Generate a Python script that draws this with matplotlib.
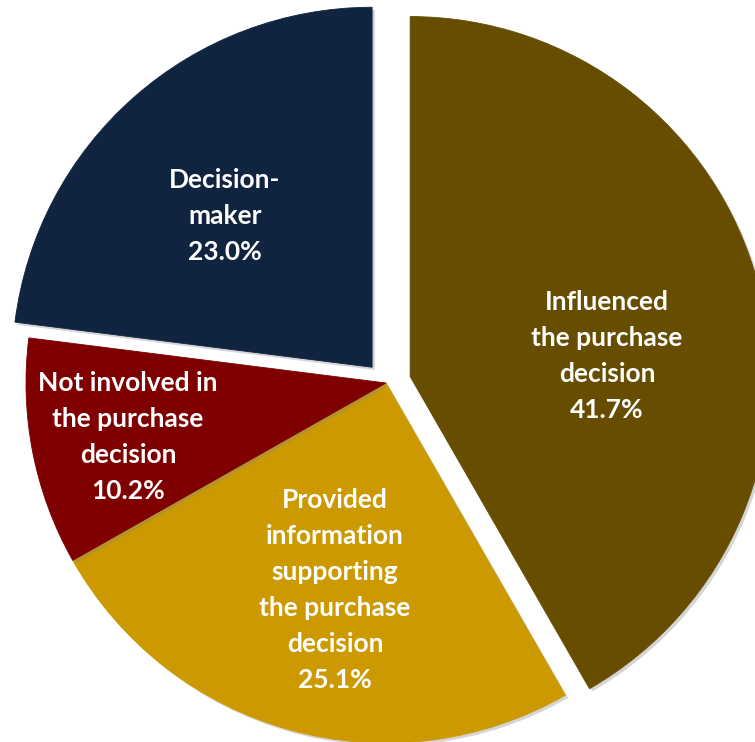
import matplotlib
matplotlib.use("Agg")
import matplotlib.pyplot as plt
import matplotlib.patheffects as pe

categories = ["Influenced\nthe purchase\ndecision",
              "Provided\ninformation\nsupporting\nthe purchase\ndecision",
              "Not involved in\nthe purchase\ndecision",
              "Decision-\nmaker"]
values = [41.7, 25.1, 10.2, 23.0]
colors = ["#664D00", "#CC9900", "#7F0000", "#10243F"]

RADIUS = 360
explode = [25, 0, 0, 21]  # offsets in pixel units
# label anchor positions (pixel coords, y up)
label_pos = [(607, 742 - 356), (335, 742 - 590), (128, 742 - 437), (225, 742 - 216)]

fig = plt.figure(figsize=(7.55, 7.42), dpi=100)
ax = fig.add_axes([0, 0, 1, 1])
wedges, _ = ax.pie(values, colors=colors, explode=explode, startangle=90,
                   counterclock=False, radius=RADIUS, center=(386, 742 - 383),
                   wedgeprops=dict(linewidth=0))
for w in wedges:
    w.set_edgecolor(w.get_facecolor())
    w.set_linewidth(0.6)
    w.set_path_effects([pe.SimplePatchShadow(offset=(2, -2), shadow_rgbFace="#888888", alpha=0.35),
                        pe.Normal()])
ax.set_xlim(0, 755)
ax.set_ylim(0, 742)
ax.set_aspect("equal")
ax.axis("off")

for cat, v, (x, y) in zip(categories, values, label_pos):
    ax.text(x, y, f"{cat}\n{v:.1f}%", ha="center", va="center", color="white",
            fontsize=19, fontweight="bold", family=["Lato", "DejaVu Sans"],
            linespacing=1.59)

fig.savefig("out.png", dpi=100)
